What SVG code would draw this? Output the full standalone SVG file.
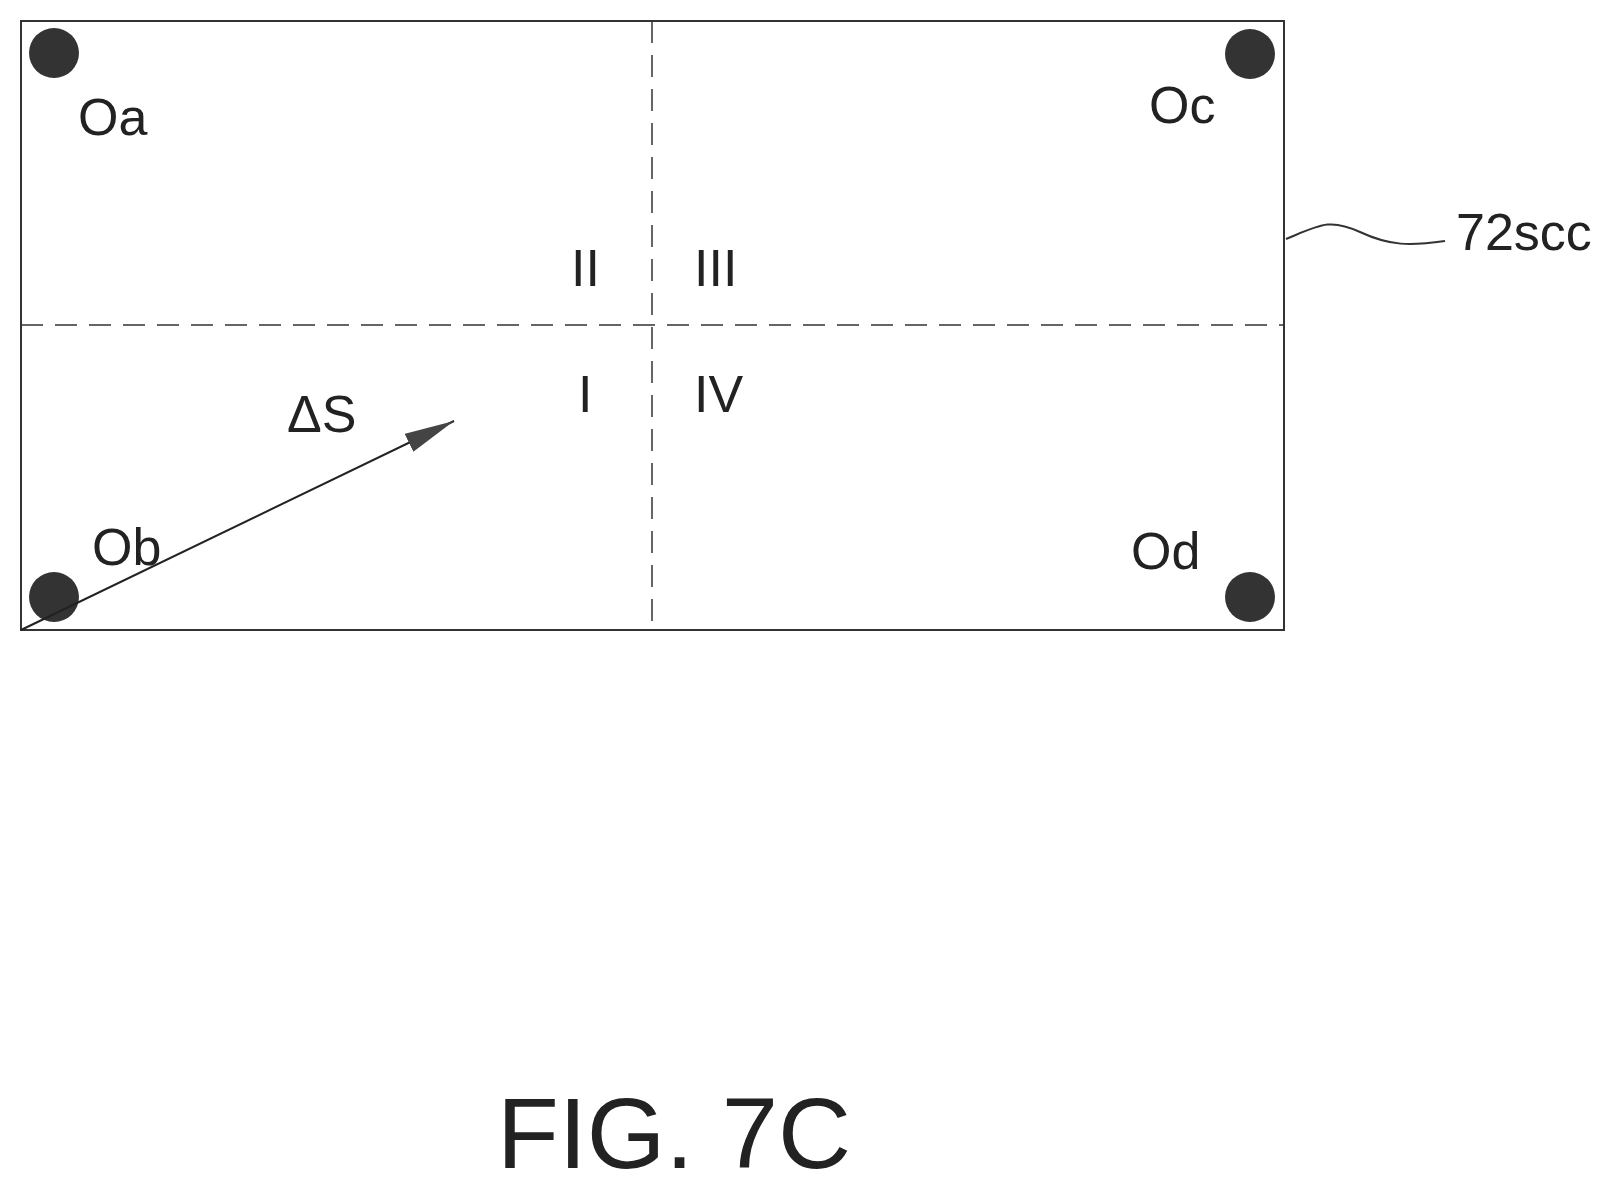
<svg xmlns="http://www.w3.org/2000/svg" width="1622" height="1192" viewBox="0 0 1622 1192">
<style>
text{font-family:"Liberation Sans",Arial,sans-serif;fill:#222}
.l{font-size:52px}
.dot{fill:#333}
.dash{stroke:#333;stroke-width:1.5;stroke-dasharray:22 12;fill:none}
</style>
<defs>
<marker id="ah2" viewBox="0 0 50 20" refX="50" refY="10" markerWidth="50" markerHeight="20" orient="auto" markerUnits="userSpaceOnUse"><path d="M0,0 L50,10 L0,20 Z" fill="#444"/></marker></defs>
<rect width="1622" height="1192" fill="#fff"/>
<g id="board">
<rect x="21" y="21" width="1263" height="609" fill="none" stroke="#333" stroke-width="2"/>
<line class="dash" x1="652" y1="21" x2="652" y2="630"/>
<line class="dash" x1="21" y1="325" x2="1284" y2="325"/>
</g>
<g id="Oa"><circle class="dot" cx="54" cy="53" r="25"/><text class="l" x="78" y="135">Oa</text></g>
<g id="Oc"><circle class="dot" cx="1250" cy="54" r="25"/><text class="l" x="1149" y="123">Oc</text></g>
<g id="Ob"><circle class="dot" cx="54" cy="597" r="25"/><text class="l" x="92" y="565">Ob</text></g>
<g id="Od"><circle class="dot" cx="1250" cy="597" r="25"/><text class="l" x="1131" y="569">Od</text></g>
<g id="quadrants">
<text class="l" x="571" y="286">II</text>
<text class="l" x="694" y="286">III</text>
<text class="l" x="578" y="412">I</text>
<text class="l" x="694" y="412">IV</text>
</g>
<g id="connectors">
<line x1="21" y1="630" x2="454" y2="421" stroke="#222" stroke-width="2" marker-end="url(#ah2)"/>
<path d="M1286,239 C1320,225 1330,218 1360,232 C1390,246 1410,246 1445,241" fill="none" stroke="#333" stroke-width="2"/>
</g>
<text class="l" x="287" y="432">ΔS</text>
<text class="l" x="1456" y="250">72scc</text>
<text x="497" y="1168" font-size="100" textLength="354" lengthAdjust="spacingAndGlyphs">FIG. 7C</text>
</svg>
